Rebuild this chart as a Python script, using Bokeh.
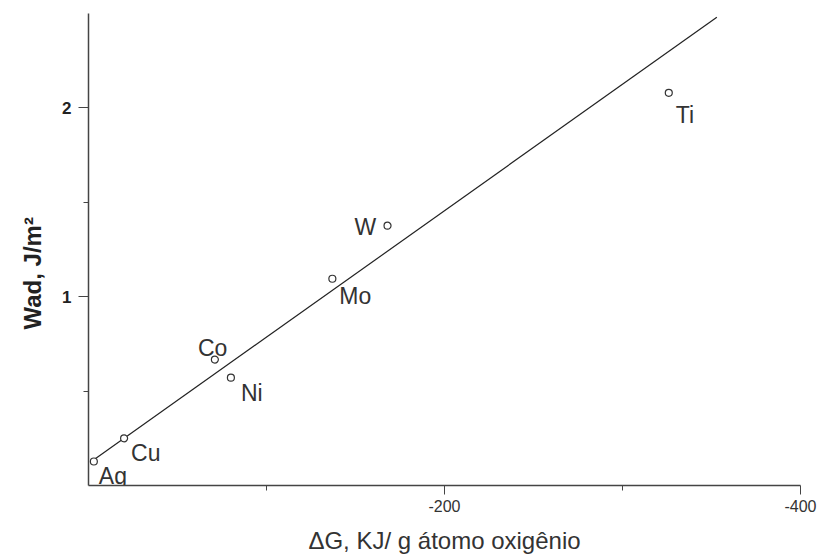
from bokeh.plotting import figure
from bokeh.models import ColumnDataSource, Range1d, FixedTicker, Title
from bokeh.core.properties import value
from bokeh.embed import file_html
from bokeh.resources import INLINE

# Data
metals = ["Ag", "Cu", "Co", "Ni", "Mo", "W", "Ti"]
delta_g = [-3, -20, -71, -80, -137, -168, -326]          # kJ / g atom oxygen
w_ad = [0.127, 0.25, 0.667, 0.571, 1.095, 1.376, 2.08]     # J/m^2

# fitted line (end points)
fit_x = [-4, -353]
fit_y = [0.143, 2.48]

x_major = [-200, -400]
x_minor = [-100, -300]
x_tick_labels = {-200: "-200", -400: "-400"}
y_major = [1, 2]
y_minor = [0.5, 1.5]

x_title = "ΔG, KJ/ g átomo oxigênio"
y_title = "Wad, J/m²"

# label placement (pixel offsets from each point)
lab_dx = [5, 7, -17, 10, 7, -33, 7]
lab_dy = [14, 15, -12, 15, 17, 1, 22]

FONT = "Liberation Sans"
INK = "#333333"

p = figure(width=819, height=557, output_backend="svg", toolbar_location=None,
           x_range=Range1d(0, -400), y_range=Range1d(0, 2.5),
           min_border_left=88, min_border_right=19, min_border_top=13,
           min_border_bottom=72, outline_line_color=None)
p.xgrid.visible = False
p.ygrid.visible = False

src = ColumnDataSource(dict(x=delta_g, y=w_ad, name=metals, dx=lab_dx, dy=lab_dy))

p.line(fit_x, fit_y, line_color="#222222", line_width=1.2)
p.scatter("x", "y", source=src, size=7, marker="circle", fill_color="white",
          line_color=INK, line_width=1.2)
p.text("x", "y", text="name", source=src, x_offset="dx", y_offset="dy",
       text_font=value(FONT), text_font_size="23px", text_color=INK,
       text_align="left", text_baseline="alphabetic")

# x axis
xa = p.xaxis[0]
xa.ticker = FixedTicker(ticks=x_major, minor_ticks=x_minor)
xa.major_label_overrides = x_tick_labels
xa.axis_label = x_title
xa.axis_label_text_font = FONT
xa.axis_label_text_font_size = "24px"
xa.axis_label_text_font_style = "normal"
xa.axis_label_text_color = INK
xa.axis_label_standoff = 12
xa.major_label_text_font = FONT
xa.major_label_text_font_size = "16px"
xa.major_label_text_color = INK
xa.major_label_standoff = 5
xa.major_tick_out = 9
xa.major_tick_in = 0
xa.minor_tick_out = 5
xa.minor_tick_in = 0
xa.axis_line_color = "#444444"
xa.axis_line_width = 1.5
xa.major_tick_line_color = "#444444"
xa.minor_tick_line_color = "#444444"

# y axis
ya = p.yaxis[0]
ya.ticker = FixedTicker(ticks=y_major, minor_ticks=y_minor)
ya.major_label_text_font = FONT
ya.major_label_text_font_size = "17px"
ya.major_label_text_font_style = "bold"
ya.major_label_text_color = "#222222"
ya.major_label_standoff = 7
ya.major_label_orientation = "horizontal"
ya.major_tick_out = 10
ya.major_tick_in = 0
ya.minor_tick_out = 5
ya.minor_tick_in = 0
ya.axis_line_color = "#444444"
ya.axis_line_width = 1.5
ya.major_tick_line_color = "#444444"
ya.minor_tick_line_color = "#444444"

# y axis title, set lower than centre as in the original
p.add_layout(Title(text=y_title, align="left", offset=156, standoff=27,
                   text_font=FONT, text_font_size="24px",
                   text_font_style="bold", text_color="#222222"), "left")

open("out.html", "w").write(file_html(p, INLINE))
